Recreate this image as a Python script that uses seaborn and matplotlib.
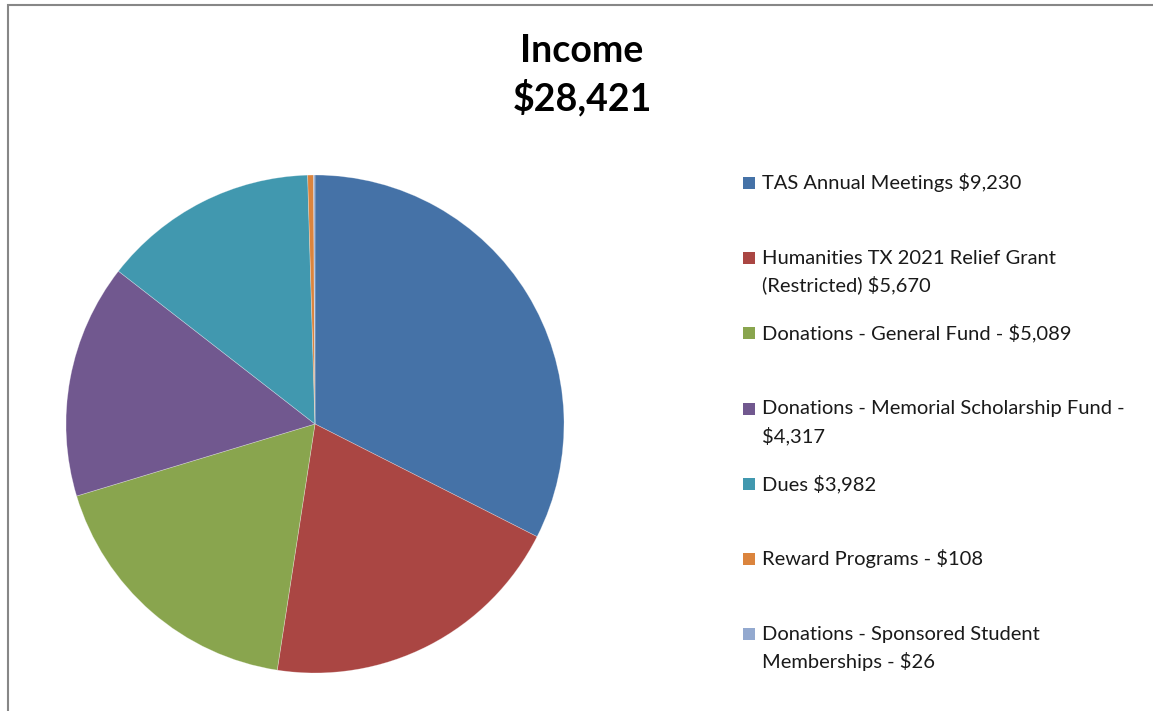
import matplotlib
matplotlib.use("Agg")
import matplotlib.pyplot as plt
import matplotlib.patches as mpatches
import seaborn as sns

categories = [
    "TAS Annual Meetings $9,230",
    "Humanities TX 2021 Relief Grant\n(Restricted) $5,670",
    "Donations - General Fund - $5,089",
    "Donations - Memorial Scholarship Fund -\n$4,317",
    "Dues $3,982",
    "Reward Programs - $108",
    "Donations - Sponsored Student\nMemberships - $26",
]
values = [9230, 5670, 5089, 4317, 3982, 108, 26]
colors = ["#4572A7", "#AA4643", "#89A54E", "#71588F", "#4198AF", "#DB843D", "#93A9CF"]
title_lines = ["Income", "$28,421"]

sns.set_theme(style="white")
plt.rcParams['font.family'] = ['Lato', 'DejaVu Sans']

W, H = 1153, 711
fig = plt.figure(figsize=(W / 100, H / 100), dpi=100)
fig.patch.set_facecolor("white")

cx, cy, r = 315, 424, 249
ax = fig.add_axes([(cx - r) / W, (H - cy - r) / H, 2 * r / W, 2 * r / H])
ax.pie(values, colors=colors, startangle=90, counterclock=False, radius=1,
       wedgeprops=dict(edgecolor=(1, 1, 1, 0.35), linewidth=0.5))
ax.set_xlim(-1, 1)
ax.set_ylim(-1, 1)
ax.set_aspect("equal")
ax.axis("off")

# outer chart frame
frame = mpatches.Rectangle((8 / W, -0.1), 2.0, 1.1 - 5 / H, transform=fig.transFigure,
                           fill=False, edgecolor="#878787", linewidth=1.5, zorder=10)
fig.patches.append(frame)

# title
fig.text(582 / W, 1 - 51 / H, title_lines[0], ha="center", va="center",
         fontsize=27, fontweight="bold", color="black")
fig.text(582 / W, 1 - 98 / H, title_lines[1], ha="center", va="center",
         fontsize=27, fontweight="bold", color="black")

# legend
y0, step, line_h = 183, 75.2, 27
for i, (lab, col) in enumerate(zip(categories, colors)):
    yc = y0 + i * step
    sq = mpatches.Rectangle((743 / W, 1 - (yc + 6) / H), 12 / W, 12 / H,
                            transform=fig.transFigure, facecolor=col, edgecolor="none")
    fig.patches.append(sq)
    for k, line in enumerate(lab.split("\n")):
        fig.text(762 / W, 1 - (yc + k * line_h) / H, line, ha="left", va="center",
                 fontsize=14.5, color="#1a1a1a")

fig.savefig("out.png", dpi=100, facecolor="white")
